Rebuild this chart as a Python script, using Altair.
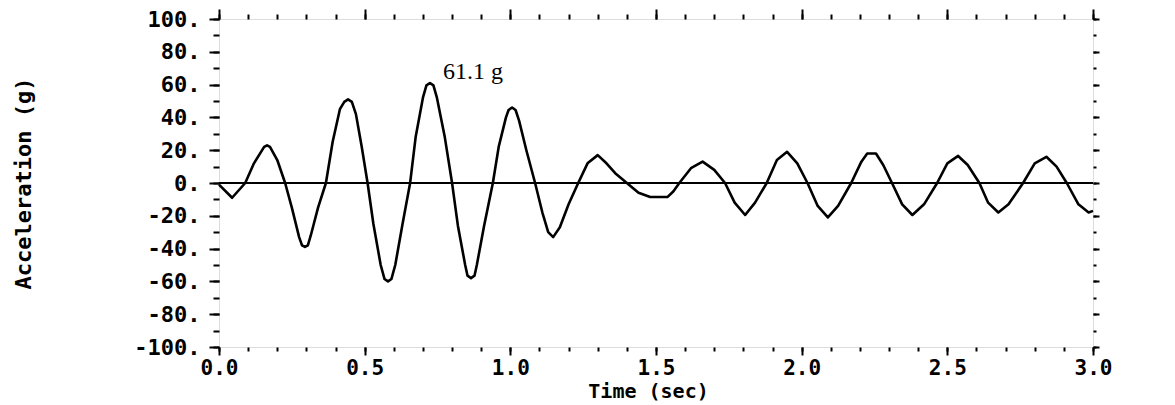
import altair as alt
import pandas as pd

time_s = [0.00, 0.045, 0.09, 0.12, 0.155, 0.165, 0.175, 0.20, 0.227, 0.25, 0.275, 0.285, 0.295,
          0.305, 0.315, 0.34, 0.367,
          0.39, 0.415, 0.43, 0.443, 0.456, 0.47, 0.49, 0.51, 0.53, 0.555, 0.568, 0.58, 0.592,
          0.605, 0.63, 0.656,
          0.675, 0.70, 0.712, 0.724, 0.736, 0.748, 0.775, 0.80, 0.82, 0.845, 0.853, 0.865,
          0.877, 0.885, 0.91, 0.94,
          0.96, 0.985, 0.994, 1.006, 1.018, 1.03, 1.055, 1.085, 1.11, 1.13, 1.147, 1.17,
          1.20, 1.233,
          1.265, 1.30, 1.33, 1.36, 1.40, 1.44, 1.48, 1.54, 1.56, 1.58,
          1.62, 1.66, 1.70, 1.737, 1.77, 1.806, 1.84, 1.88,
          1.915, 1.95, 1.985, 2.02, 2.055, 2.09, 2.125, 2.17,
          2.205, 2.225, 2.255, 2.28, 2.31, 2.345, 2.38, 2.42, 2.465,
          2.50, 2.537, 2.57, 2.61, 2.64, 2.675, 2.71, 2.76,
          2.80, 2.84, 2.875, 2.91, 2.95, 2.985, 3.00]
accel_g = [-1, -9, 0, 12, 22, 23, 22, 14, 0, -15, -33, -38, -39,
           -38, -32, -15, 0,
           25, 45, 49.5, 51, 49.5, 42, 22, 0, -25, -50, -58.5, -60, -58.5,
           -50, -25, 0,
           28, 52, 59.5, 61, 59.5, 52, 28, 0, -26, -50, -56.5, -58,
           -56.5, -50, -26, 0,
           22, 40, 44.5, 46, 44.5, 38, 20, 0, -18, -30, -33, -27,
           -13, 0,
           12, 17, 12, 6, 0, -6, -8.5, -8.5, -5, 0,
           9, 13, 8, 0, -12, -19.5, -12, 0,
           14, 19, 12, 0, -14, -21, -14, 0,
           13, 18, 18, 11, 0, -13, -19.5, -13, 0,
           12, 16.5, 11, 0, -12, -18, -13, 0,
           12, 16, 10, 0, -13, -18, -17]

# ---- axis ticks ----
x_major = [0.0, 0.5, 1.0, 1.5, 2.0, 2.5, 3.0]
x_minor = [0.0, 0.1, 0.2, 0.3, 0.4, 0.5, 0.6, 0.7, 0.8, 0.9, 1.0, 1.1, 1.2, 1.3, 1.4, 1.5,
           1.6, 1.7, 1.8, 1.9, 2.0, 2.1, 2.2, 2.3, 2.4, 2.5, 2.6, 2.7, 2.8, 2.9, 3.0]
y_major = [-100, -80, -60, -40, -20, 0, 20, 40, 60, 80, 100]
y_minor = [-100, -90, -80, -70, -60, -50, -40, -30, -20, -10, 0,
           10, 20, 30, 40, 50, 60, 70, 80, 90, 100]

# ---- annotation ----
note_text = ["61.1 g"]
note_t = [0.769]
note_a = [67.7]

MONO = "DejaVu Sans Mono"
SERIF = "Liberation Serif"

df = pd.DataFrame({"t": time_s, "a": accel_g})
xs = alt.Scale(domain=[0, 3], nice=False, zero=False)
ys = alt.Scale(domain=[-100, 100], nice=False)


def ax(orient, values, size, labels=False, **kw):
    return alt.Axis(orient=orient, values=values, tickSize=size, labels=labels,
                    domain=False, grid=False, ticks=True, tickColor="black",
                    tickWidth=2, **kw)


base = alt.Chart(df)

line = base.mark_line(color="black", strokeWidth=2.6, strokeJoin="round").encode(
    x=alt.X("t:Q", scale=xs, axis=ax(
        "bottom", x_major, 8, labels=True, labelExpr="format(datum.value, '.1f')",
        labelFont=MONO, labelFontWeight="bold", labelFontSize=21, labelColor="black",
        labelPadding=2, labelFlush=False, labelOverlap=False,
        title="Time (sec)", titleFont=MONO, titleFontWeight="bold", titleFontSize=20,
        titleColor="black", titleX=429, titleY=50, titleAlign="center",
        titleBaseline="alphabetic")),
    y=alt.Y("a:Q", scale=ys, axis=ax(
        "left", y_major, 10, labels=True, labelExpr="datum.value + '.'",
        labelFont=MONO, labelFontWeight="bold", labelFontSize=22, labelColor="black",
        labelPadding=9, labelFlush=False, labelOverlap=False,
        title="Acceleration (g)", titleFont=MONO, titleFontWeight="bold",
        titleFontSize=22, titleColor="black", titleAngle=270, titleX=-196, titleY=164,
        titleAlign="center", titleBaseline="middle")),
)


def ghost(xorient, xvals, xsize, yorient, yvals, ysize):
    return base.mark_line(opacity=0).encode(
        x=alt.X("t:Q", scale=xs, axis=ax(xorient, xvals, xsize, title=None)),
        y=alt.Y("a:Q", scale=ys, axis=ax(yorient, yvals, ysize, title=None)),
    )


minor_bl = ghost("bottom", x_minor, 4, "left", y_minor, 6)
major_tr = ghost("top", x_major, 10, "right", y_major, 6)
minor_tr = ghost("top", x_minor, 5, "right", y_minor, 3)

zero = alt.Chart(pd.DataFrame({"z": [0]})).mark_rule(color="black", strokeWidth=2).encode(
    y=alt.Y("z:Q", scale=ys, axis=None)
)

note = alt.Chart(pd.DataFrame({"t": note_t, "a": note_a, "s": note_text})).mark_text(
    font=SERIF, fontSize=24, align="left", baseline="middle", color="black"
).encode(
    x=alt.X("t:Q", scale=xs, axis=None),
    y=alt.Y("a:Q", scale=ys, axis=None),
    text="s:N",
)

chart = alt.layer(line, minor_bl, major_tr, minor_tr, zero, note).resolve_axis(
    x="independent", y="independent"
).properties(
    width=874, height=328,
    autosize=alt.AutoSizeParams(type="none"),
    padding={"left": 211, "top": 11, "right": 74, "bottom": 57},
).configure_view(stroke="black", strokeWidth=2).configure(background="white")

chart.save("out.html", embed_options={"renderer": "svg", "actions": False})
